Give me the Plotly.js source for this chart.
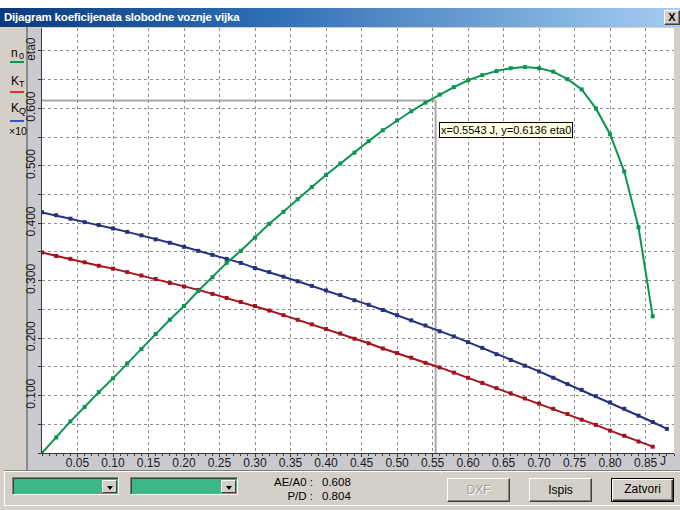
<!DOCTYPE html>
<html>
<head>
<meta charset="utf-8">
<script src="https://cdn.plot.ly/plotly-3.0.1.min.js"></script>
<style>
  html,body{margin:0;padding:0;}
  body{width:680px;height:510px;overflow:hidden;background:#fff;position:relative;font-family:'Liberation Sans',Arial,sans-serif;}
  .abs{position:absolute;}
  .btn{position:absolute;background:#d4d0c8;box-sizing:border-box;border:1px solid;border-color:#fff #404040 #404040 #fff;box-shadow:inset -1px -1px #808080;font-size:12px;text-align:center;color:#000;}
  .dd{position:absolute;box-sizing:border-box;border:1px solid;border-color:#808080 #fff #fff #808080;box-shadow:inset 1px 1px #404040;background:#3cb887;}
  .ddb{position:absolute;top:2px;right:1px;width:15px;bottom:1px;background:#d4d0c8;box-sizing:border-box;border:1px solid;border-color:#fff #404040 #404040 #fff;}
  .tri{position:absolute;left:4px;top:5px;width:0;height:0;border-left:3.5px solid transparent;border-right:3.5px solid transparent;border-top:4px solid #000;}
  .lbl{position:absolute;font-size:11.5px;color:#000;line-height:13px;}
</style>
</head>
<body>
<div class="abs" style="left:0;top:8px;width:680px;height:502px;background:#d4d0c8;"></div>
<div class="abs" style="left:0;top:8px;width:680px;height:19px;background:linear-gradient(to right,#0b3a7c 0%,#2f6fb4 40%,#a6cdf1 100%);"></div>
<div class="abs" style="left:4px;top:8px;height:19px;line-height:19px;color:#fff;font-weight:bold;font-size:11.5px;letter-spacing:-0.2px;">Dijagram koeficijenata slobodne voznje vijka</div>
<div class="btn" style="left:664px;top:10px;width:16px;height:15px;font-size:11px;font-weight:bold;line-height:12px;">X</div>
<!-- chart frame -->
<div class="abs" style="left:26px;top:27px;width:2px;height:443px;background:#8a8a8a;"></div>
<div class="abs" style="left:28px;top:28px;width:14px;height:442px;background:#c9c9ce;"></div>
<div class="abs" style="left:28px;top:453px;width:652px;height:17px;background:#c9c9ce;"></div>
<div class="abs" style="left:4px;top:470px;width:676px;height:1px;background:#808080;"></div>
<div class="abs" style="left:4px;top:471px;width:676px;height:1px;background:#fff;"></div>
<div class="abs" style="left:4px;top:505px;width:676px;height:1px;background:#fff;"></div>
<div class="abs" style="left:4px;top:472px;width:1px;height:34px;background:#fff;"></div>
<!-- bottom panel -->
<div class="dd" style="left:12px;top:477px;width:107px;height:18px;"><div class="ddb"><div class="tri"></div></div></div>
<div class="dd" style="left:130px;top:477px;width:108px;height:18px;"><div class="ddb"><div class="tri"></div></div></div>
<div class="lbl" style="left:250px;top:476px;width:63px;text-align:right;">AE/A0 :</div>
<div class="lbl" style="left:322px;top:476px;">0.608</div>
<div class="lbl" style="left:250px;top:490px;width:63px;text-align:right;">P/D :</div>
<div class="lbl" style="left:322px;top:490px;">0.804</div>
<div class="btn" style="left:447px;top:478px;width:63px;height:24px;line-height:22px;color:#a0a0a0;text-shadow:1px 1px #fff;">DXF</div>
<div class="btn" style="left:529px;top:478px;width:63px;height:24px;line-height:22px;">Ispis</div>
<div class="btn" style="left:611px;top:478px;width:63px;height:24px;line-height:20px;border:1px solid #000;box-shadow:inset 1px 1px #fff,inset -1px -1px #404040,inset -2px -2px #808080;">Zatvori</div>

<div id="chart" class="abs" style="left:0;top:0;width:680px;height:510px;"></div>
<script>
// Advance coefficient J
var J = [0.00,0.02,0.04,0.06,0.08,0.10,0.12,0.14,0.16,0.18,0.20,0.22,0.24,0.26,0.28,0.30,
         0.32,0.34,0.36,0.38,0.40,0.42,0.44,0.46,0.48,0.50,0.52,0.54,0.56,0.58,0.60,
         0.62,0.64,0.66,0.68,0.70,0.72,0.74,0.76,0.78,0.80,0.82,0.84,0.86,0.88];
// Open water efficiency eta0 (green)
var eta0 = [0.000,0.027,0.055,0.080,0.106,0.130,0.156,0.181,0.207,0.232,0.256,0.282,0.306,0.331,0.352,0.375,
            0.399,0.420,0.442,0.463,0.484,0.504,0.523,0.543,0.562,0.579,0.595,0.610,0.624,0.637,0.649,
            0.658,0.665,0.670,0.672,0.670,0.664,0.651,0.633,0.600,0.555,0.490,0.393,0.238];
// Thrust coefficient KT (red)
var KT = [0.349,0.343,0.338,0.332,0.326,0.321,0.315,0.309,0.303,0.296,0.290,0.284,0.277,0.270,0.263,0.256,
          0.248,0.240,0.232,0.224,0.216,0.208,0.199,0.191,0.182,0.174,0.166,0.157,0.149,0.140,0.131,
          0.122,0.113,0.104,0.095,0.086,0.077,0.068,0.058,0.049,0.039,0.030,0.020,0.011];
// Torque coefficient KQ x10 (blue)
var KQ10 = [0.419,0.414,0.408,0.402,0.397,0.391,0.385,0.379,0.372,0.366,0.359,0.352,0.345,0.338,0.331,0.322,
            0.315,0.307,0.299,0.291,0.283,0.275,0.266,0.258,0.249,0.240,0.231,0.222,0.212,0.203,0.193,
            0.183,0.172,0.162,0.152,0.142,0.131,0.120,0.110,0.099,0.088,0.077,0.065,0.054,0.042];

var xTickVals = [0.05,0.10,0.15,0.20,0.25,0.30,0.35,0.40,0.45,0.50,0.55,0.60,0.65,0.70,0.75,0.80,0.85];
var xTickText = ['0.05','0.10','0.15','0.20','0.25','0.30','0.35','0.40','0.45','0.50','0.55','0.60','0.65','0.70','0.75','0.80','0.85'];
var yTickVals = [0.10,0.20,0.30,0.40,0.50,0.60,0.70];
var yTickText = ['0.100','0.200','0.300','0.400','0.500','0.600','eta0'];

// legend entries: symbol, subscript
var legMain = ['n', 'K', 'K'];
var legSub = ['0', 'T', 'Q'];
var legNote = '×10';

var cursorJ = 0.5543, cursorEta = 0.6136;
var cursorText = 'x=0.5543 J, y=0.6136 eta0';

function xs(a){ return J.slice(0, a.length); }
var cGreen = '#0b9552', cRed = '#a3121f', cBlue = '#24337a';
var traces = [
  {x: xs(KQ10), y: KQ10, name: 'KQ ×10', mode: 'lines+markers', line: {color: cBlue, width: 2}, marker: {symbol: 'square', size: 4, color: cBlue}},
  {x: xs(KT), y: KT, name: 'KT', mode: 'lines+markers', line: {color: cRed, width: 2}, marker: {symbol: 'square', size: 4, color: cRed}},
  {x: xs(eta0), y: eta0, name: 'n0', mode: 'lines+markers', line: {color: cGreen, width: 2}, marker: {symbol: 'square', size: 4, color: cGreen}}
];

var tickFont = {family: "'Liberation Sans Narrow','Liberation Sans',Arial,sans-serif", size: 12, color: '#1a1a1a'};
function px2x(px){ return (px - 42) / 632; }
function px2y(py){ return (453 - py) / 425; }
var legFam = "'Liberation Sans',Arial,sans-serif";

var legY = [53, 81, 108];        // centre of main letter (px)
var lineY = [62, 92, 121];       // underline (px)
var lineC = [cGreen, '#e03030', '#2a5fc0'];

var shapes = [
  {type: 'line', xref: 'x', yref: 'y', x0: 0, x1: cursorJ, y0: cursorEta, y1: cursorEta, line: {color: '#a9a9a9', width: 2}, layer: 'below'},
  {type: 'line', xref: 'x', yref: 'y', x0: cursorJ, x1: cursorJ, y0: 0, y1: cursorEta, line: {color: '#a9a9a9', width: 2}, layer: 'below'}
];
var annotations = [
  {xref: 'x', yref: 'paper', x: 0.874, y: px2y(461), xanchor: 'center', yanchor: 'middle', text: 'J', showarrow: false, font: tickFont},
  {xref: 'x', yref: 'y', x: cursorJ, y: cursorEta, xshift: 3, yshift: -21, xanchor: 'left', yanchor: 'top',
   text: cursorText, showarrow: false, bgcolor: '#ffffe1', bordercolor: '#000', borderwidth: 1, borderpad: 1,
   font: {family: legFam, size: 11, color: '#000'}},
  {xref: 'paper', yref: 'paper', x: px2x(7), y: px2y(131), xanchor: 'left', yanchor: 'middle', text: legNote, showarrow: false, font: {family: legFam, size: 10.5, color: '#000'}}
];
for (var i = 0; i < legMain.length; i++) {
  shapes.push({type: 'line', xref: 'paper', yref: 'paper', x0: px2x(10), x1: px2x(24), y0: px2y(lineY[i]), y1: px2y(lineY[i]), line: {color: lineC[i], width: 2}});
  annotations.push({xref: 'paper', yref: 'paper', x: px2x(9), y: px2y(legY[i]), xanchor: 'left', yanchor: 'middle', text: legMain[i], showarrow: false, font: {family: legFam, size: 12, color: '#000'}});
  annotations.push({xref: 'paper', yref: 'paper', x: px2x(17), y: px2y(legY[i] + 3), xanchor: 'left', yanchor: 'middle', text: legSub[i], showarrow: false, font: {family: legFam, size: 9, color: '#000'}});
}

var gridC = '#8e8e8e', gridD = '3px,3px';
var layout = {
  width: 680, height: 510,
  margin: {l: 42, r: 6, t: 28, b: 57, pad: 0},
  paper_bgcolor: 'rgba(0,0,0,0)',
  plot_bgcolor: '#ffffff',
  showlegend: false,
  xaxis: {
    range: [0, 0.89], tickmode: 'array', tickvals: xTickVals, ticktext: xTickText,
    showgrid: true, gridcolor: gridC, griddash: gridD, gridwidth: 1,
    ticks: 'outside', ticklen: 3, tickcolor: '#333', showline: true, linecolor: '#3a3a3a', linewidth: 1,
    zeroline: false, tickfont: tickFont, ticklabelstandoff: -4,
    minor: {dtick: 0.01, tick0: 0, ticks: 'outside', ticklen: 2, tickcolor: '#444', showgrid: false}
  },
  yaxis: {
    range: [0, 0.74], tickmode: 'array', tickvals: yTickVals, ticktext: yTickText, tickangle: -90,
    showgrid: true, gridcolor: gridC, griddash: gridD, gridwidth: 1,
    ticks: 'outside', ticklen: 3, tickcolor: '#333', showline: true, linecolor: '#3a3a3a', linewidth: 1,
    zeroline: false, tickfont: tickFont, ticklabelstandoff: -2,
    minor: {dtick: 0.05, tick0: 0, ticks: 'outside', ticklen: 3, tickcolor: '#333',
            showgrid: true, gridcolor: gridC, griddash: gridD, gridwidth: 1}
  },
  shapes: shapes,
  annotations: annotations
};
Plotly.newPlot('chart', traces, layout, {staticPlot: true, displayModeBar: false});
</script>
</body>
</html>
